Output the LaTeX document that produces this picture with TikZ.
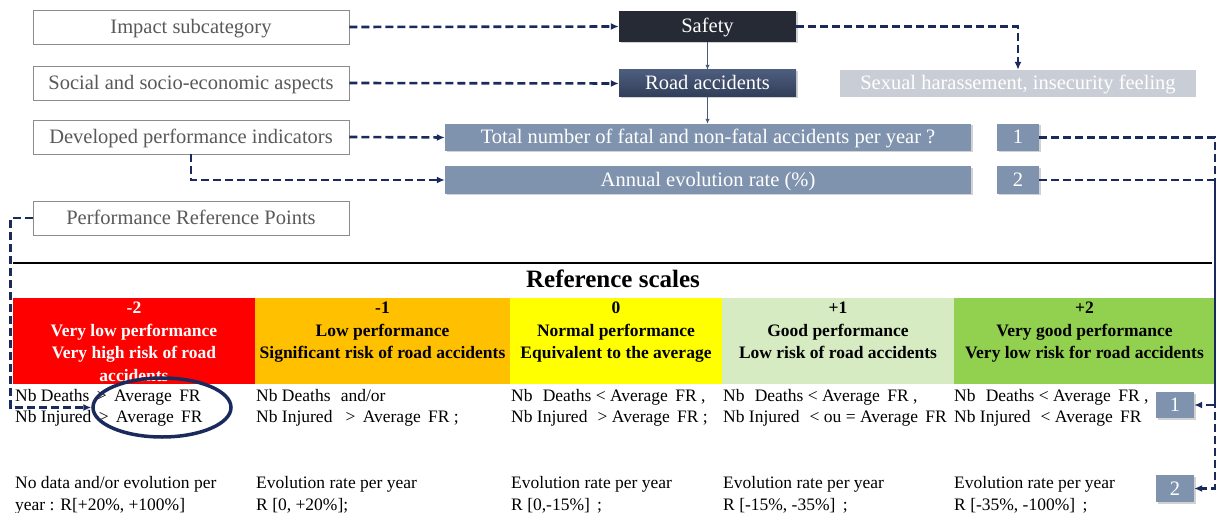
\documentclass[tikz,border=0pt]{standalone}
\usepackage{fontspec}
\setmainfont{Liberation Serif}
\usetikzlibrary{arrows.meta,shadows,shapes.geometric}
\definecolor{navy}{HTML}{1B2A5C}
\definecolor{txtgray}{HTML}{595959}
\definecolor{bordgray}{HTML}{8C8C8C}
\definecolor{indic}{HTML}{8093AE}
\definecolor{safetyc}{HTML}{252A34}
\definecolor{roadtop}{HTML}{4D5D7D}
\definecolor{roadbot}{HTML}{313E59}
\definecolor{sexc}{HTML}{C9CED6}
\definecolor{cred}{HTML}{FF0000}
\definecolor{corange}{HTML}{FFC000}
\definecolor{cyellow}{HTML}{FFFF00}
\definecolor{clgreen}{HTML}{D6EBC2}
\definecolor{cgreen}{HTML}{92D050}
\definecolor{thinarr}{HTML}{4A5A78}
\tikzset{
  x=1pt, y=-1pt,
  bfont/.style={font=\fontsize{20.5}{23}\selectfont, text height=16pt, text depth=3pt},
  lbox/.style={bfont, draw=bordgray, line width=0.9pt, fill=white, text=txtgray,
    inner sep=0pt, minimum width=316pt, minimum height=34pt},
  ibox/.style={bfont, fill=indic, text=white, inner sep=0pt,
    drop shadow={opacity=0.35, shadow xshift=1.5pt, shadow yshift=-1.5pt}},
  dconn/.style={navy, line width=2.6pt, dash pattern=on 8pt off 4pt,
    -{Latex[length=8pt,width=7pt]}},
  tconn/.style={thinarr, line width=1pt, -{Latex[length=5pt,width=4.5pt]}},
  hcell/.style={inner sep=0pt, minimum height=86pt, anchor=north west},
  htext/.style={anchor=north, inner sep=0pt, align=center,
    font=\fontsize{17.5}{22.5}\selectfont\bfseries},
  btext/.style={anchor=base west, inner sep=0pt, align=left,
    font=\fontsize{17.5}{21.5}\selectfont},
}
\begin{document}
\begin{tikzpicture}
\useasboundingbox (0,0) rectangle (1217,513);
\fill[white] (0,0) rectangle (1217,513);
% left boxes
\node[lbox] (imp) at (191,27) {Impact subcategory};
\node[lbox] (soc) at (191,83) {Social and socio-economic aspects};
\node[lbox] (dev) at (191,137) {Developed performance indicators};
\node[lbox] (prp) at (191,218) {Performance Reference Points};
% top right
\node[bfont, fill=safetyc, text=white, inner sep=0pt,
  minimum width=177pt, minimum height=31pt,
  drop shadow={opacity=0.35, shadow xshift=1.5pt, shadow yshift=-1.5pt}] (saf) at (707.5,26.5) {Safety};
\node[bfont, top color=roadtop, bottom color=roadbot, text=white, inner sep=0pt,
  minimum width=177pt, minimum height=27pt,
  drop shadow={opacity=0.35, shadow xshift=1.5pt, shadow yshift=-1.5pt}] (road) at (707.5,83.5) {Road accidents};
\node[bfont, fill=sexc, text=white, inner sep=0pt,
  minimum width=356pt, minimum height=27pt] (sex) at (1018,83.5) {Sexual harassement, insecurity feeling};
\node[ibox, minimum width=526pt, minimum height=27pt] (tot) at (708,137.5) {Total number of fatal and non-fatal accidents per year ?};
\node[ibox, minimum width=526pt, minimum height=27pt] (ann) at (708,180) {Annual evolution rate (\%)};
\node[ibox, minimum width=42pt, minimum height=27pt] (one) at (1018,137.5) {1};
\node[ibox, minimum width=42pt, minimum height=27pt] (two) at (1018,180) {2};
\coordinate (rx) at (1215,0);
% reference scales
\draw[black, line width=2pt] (13,263) -- (1212,263);
\node[font=\fontsize{25}{28}\selectfont\bfseries, inner sep=0pt] (rs) at (613,279) {Reference scales};
\node[hcell, fill=cred, minimum width=242pt] (c1) at (13,298) {};
\node[hcell, fill=corange, minimum width=255pt] (c2) at (255,298) {};
\node[hcell, fill=cyellow, minimum width=212pt] (c3) at (510,298) {};
\node[hcell, fill=clgreen, minimum width=232pt] (c4) at (722,298) {};
\node[hcell, fill=cgreen, minimum width=261pt] (c5) at (954,298) {};
\node[htext, text=white] (h1) at (134,302) {-2\\Very low performance\\Very high risk of road\\accidents};
\node[htext] (h2) at (382.5,302) {-1\\Low performance\\Significant risk of road accidents};
\node[htext] (h3) at (616,302) {0\\Normal performance\\Equivalent to the average};
\node[htext] (h4) at (838,302) {+1\\Good performance\\Low risk of road accidents};
\node[htext] (h5) at (1084.5,302) {+2\\Very good performance\\Very low risk for road accidents};
% body rows
\node[btext] (b11) at (15,422.5) {Nb Deaths \,>\, Average\, FR\\Nb Injured \,>\, Average\, FR};
\node[btext] (b12) at (256,422.5) {Nb Deaths\,\, and/or\\Nb Injured\,\,\, >\, Average\, FR ;};
\node[btext] (b13) at (511,422.5) {Nb\,\, Deaths < Average\, FR ,\\Nb Injured\,\, > Average\, FR ;};
\node[btext] (b14) at (723,422.5) {Nb\,\, Deaths < Average\, FR ,\\Nb Injured\,\, < ou = Average\, FR};
\node[btext] (b15) at (954,422.5) {Nb\,\, Deaths < Average\, FR ,\\Nb Injured\,\, < Average\, FR};
\node[btext] (b21) at (15,510) {No data and/or evolution per\\year : R[+20\%, +100\%]};
\node[btext] (b22) at (256,510) {Evolution rate per year\\R [0, +20\%];};
\node[btext] (b23) at (511,510) {Evolution rate per year\\R [0,-15\%]\, ;};
\node[btext] (b24) at (723,510) {Evolution rate per year\\R [-15\%, -35\%]\, ;};
\node[btext] (b25) at (954,510) {Evolution rate per year\\R [-35\%, -100\%]\, ;};
\node[ibox, minimum width=38pt, minimum height=26pt] (r1) at (1175,405) {1};
\node[ibox, minimum width=38pt, minimum height=27pt] (r2) at (1175,488.5) {2};
\node[draw=navy, line width=3.5pt, ellipse, minimum width=138pt, minimum height=59pt, inner sep=0pt] (ell) at (162,407.5) {};
% connectors
\draw[dconn] (imp.east) -- (saf.west);
\draw[dconn] (soc.east) -- (road.west);
\draw[dconn] (dev.east) -- (tot.west);
\draw[dconn] (dev.south) |- (ann.west);
\draw[dconn] (saf.east) -| (sex.north);
\draw[tconn] (saf.south) -- (road.north);
\draw[tconn] (road.south) -- (road.south |- tot.north);
\draw[dconn] (one.east) -- (one.east -| rx) |- (r1.east);
\draw[dconn] (two.east) -- (two.east -| rx) |- (r2.east);
\draw[dconn] (prp.west) -- ++(-22,0) |- (ell.west);
\end{tikzpicture}
\end{document}
